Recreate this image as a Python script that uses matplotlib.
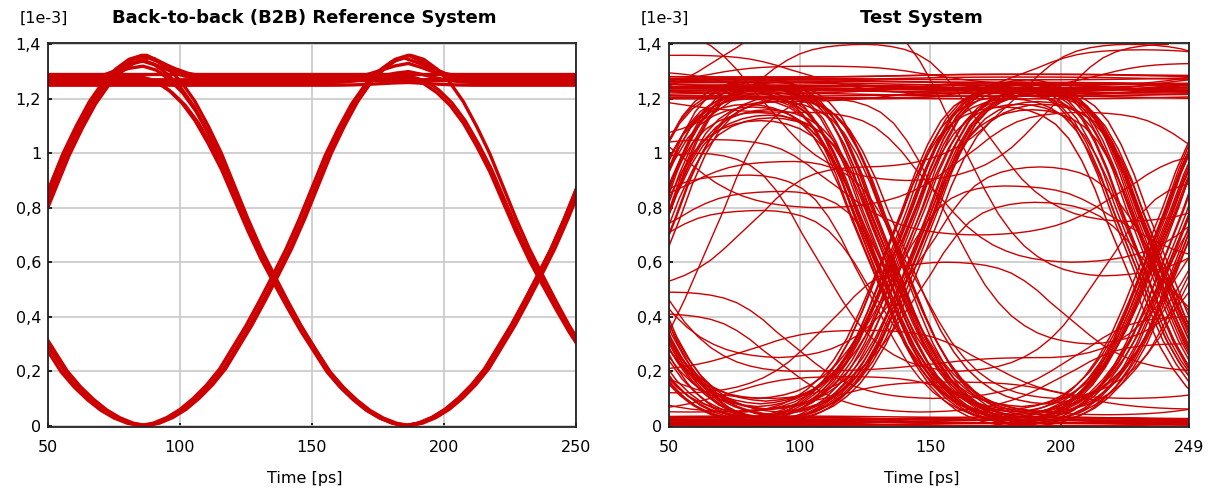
import matplotlib
matplotlib.use("Agg")
import matplotlib.pyplot as plt
import numpy as np
from matplotlib.ticker import FuncFormatter

# sample offsets (ps) across one bit slot, measured from the eye crossing
slot_offsets = np.arange(-50, 55, 5)

# normalised edge shapes (21 samples, -50..+50 ps)
b2b_rise = [0.0, 0.007, 0.022, 0.044, 0.074, 0.110, 0.154, 0.213, 0.272, 0.338, 0.407,
            0.478, 0.559, 0.647, 0.735, 0.809, 0.875, 0.926, 0.963, 0.989, 1.0]
b2b_hump_rise = [0.0] * 15 + [0.04, 0.15, 0.35, 0.6, 0.85, 1.0]
b2b_hump_fall = [1.0, 0.75, 0.45, 0.2, 0.06] + [0.0] * 16
test_rise = [0.0, 0.004, 0.012, 0.025, 0.045, 0.075, 0.115, 0.17, 0.24, 0.33, 0.43,
             0.53, 0.63, 0.74, 0.83, 0.90, 0.945, 0.972, 0.988, 0.997, 1.0]

# bit centres (ps) inside / around the 200 ps window
b2b_centres = [-13.5, 86.5, 186.5, 286.5]
test_centres = [-14, 86, 186, 286]

# B2B traces: level at each bit centre [1e-3] and a small timing offset (ps)
b2b_levels = [
    [0.0, 1.36, 1.27, 1.27], [0.0, 1.36, 1.27, 0.0], [0.0, 1.36, 0.0, 1.36],
    [1.27, 0.0, 1.36, 1.27], [1.30, 0.0, 1.36, 0.0], [1.27, 1.27, 1.27, 1.27],
    [1.28, 1.28, 0.0, 1.36], [1.26, 1.34, 1.27, 1.27], [1.27, 1.27, 1.33, 1.27],
    [1.36, 1.27, 0.0, 1.36], [1.29, 1.29, 1.29, 1.29], [1.25, 1.25, 1.26, 1.25],
    [1.27, 1.32, 0.0, 1.36], [0.0, 1.35, 1.28, 0.0], [1.28, 0.0, 1.35, 1.28],
    [1.26, 1.26, 1.30, 1.26], [0.0, 1.34, 0.0, 1.35],
]
b2b_shift = [0.0, 0.8, -0.8, 0.0, 0.8, 0.0, -0.8, 0.0, 0.0, 0.5, 0.0, 0.0, -0.5, 1.5, -1.5, 0.0, -1.2]

# Test system: main eye traces (levels at the bit centres) and timing jitter (ps)
test_levels = [
    [0.01, 1.17, 0.05, 1.23], [1.24, 0.06, 1.16, 0.02], [0.02, 1.22, 1.26, 0.01],
    [1.27, 1.25, 0.02, 0.01], [0.00, 0.01, 1.23, 1.27], [1.22, 0.02, 0.01, 1.24],
    [0.02, 1.14, 0.01, 0.00], [1.25, 0.08, 1.25, 1.22], [0.01, 1.19, 0.04, 1.21],
    [1.21, 0.03, 1.20, 0.02], [1.28, 1.27, 1.28, 1.27], [1.21, 1.22, 1.21, 1.22],
    [0.01, 0.00, 0.01, 0.02], [0.02, 0.03, 0.02, 0.01], [1.23, 1.25, 1.24, 0.02],
    [0.01, 0.02, 1.25, 0.01], [1.26, 0.02, 0.01, 1.25], [0.01, 1.24, 1.22, 1.28],
    [1.25, 1.27, 0.03, 1.24], [0.03, 0.02, 1.18, 0.00], [1.22, 0.07, 1.26, 1.25],
    [0.00, 1.16, 0.02, 0.02], [1.24, 1.23, 1.24, 1.22], [0.01, 0.01, 0.03, 0.02],
    [1.27, 0.04, 1.19, 0.03], [0.02, 1.20, 0.06, 1.26], [1.29, 1.28, 1.29, 1.28],
    [0.03, 0.02, 0.03, 0.02], [1.21, 1.23, 0.01, 1.21], [0.01, 1.25, 1.23, 0.02],
    [1.23, 0.05, 1.22, 0.01], [0.02, 1.18, 0.03, 1.22], [1.26, 0.02, 1.22, 1.24],
    [0.01, 1.21, 0.02, 0.00], [1.20, 0.03, 1.26, 0.02], [0.03, 1.24, 0.01, 1.23],
    [1.25, 1.26, 1.25, 1.26], [1.23, 1.24, 1.23, 1.24], [0.00, 0.01, 0.00, 0.01],
    [1.22, 0.09, 1.21, 0.03], [0.02, 1.12, 0.07, 1.24], [1.24, 0.03, 0.02, 1.23],
    [0.01, 1.23, 1.25, 1.22], [1.26, 1.24, 0.02, 0.01], [0.03, 0.01, 1.24, 1.26],
    [1.23, 0.04, 1.24, 0.04], [0.01, 1.22, 0.02, 1.20], [1.27, 0.02, 1.23, 1.26],
    [0.02, 1.25, 0.03, 0.02], [1.22, 1.21, 0.01, 1.25], [1.28, 0.01, 1.27, 0.00],
    [0.00, 1.28, 0.00, 1.27], [1.20, 1.20, 1.21, 1.20], [0.02, 0.02, 0.01, 0.03],
    [0.02, 1.23, 0.04, 1.25], [1.26, 0.03, 1.24, 0.02], [0.01, 1.26, 1.24, 0.03],
    [1.24, 1.22, 0.03, 0.02], [0.02, 0.03, 1.21, 1.25], [1.25, 0.01, 0.02, 1.27],
    [0.03, 1.15, 0.02, 0.01], [1.21, 0.06, 1.23, 1.25], [0.00, 1.20, 0.08, 1.22],
    [1.27, 0.05, 1.17, 0.01], [0.02, 1.26, 0.00, 1.24], [1.24, 0.01, 1.25, 0.03],
    [0.01, 1.19, 1.25, 0.02], [1.22, 1.25, 0.04, 1.20], [0.03, 0.02, 1.22, 0.04],
    [1.23, 0.02, 0.03, 1.22], [0.01, 1.24, 0.02, 1.26], [1.26, 0.03, 1.26, 0.01],
    [0.02, 1.21, 0.01, 1.23], [1.25, 0.02, 1.24, 0.02], [0.00, 1.13, 0.05, 1.20],
    [1.23, 0.10, 1.18, 0.02], [0.03, 1.27, 1.26, 0.00], [1.28, 1.26, 0.00, 1.27],
    # flat rails
    [1.200, 1.205, 1.200, 1.210], [1.215, 1.210, 1.220, 1.215], [1.225, 1.230, 1.225, 1.220],
    [1.235, 1.240, 1.235, 1.245], [1.250, 1.245, 1.255, 1.250], [1.260, 1.265, 1.260, 1.255],
    [1.270, 1.275, 1.270, 1.280], [1.285, 1.280, 1.290, 1.285], [1.245, 1.235, 1.240, 1.230],
    [0.000, 0.005, 0.000, 0.005], [0.010, 0.015, 0.010, 0.015], [0.020, 0.025, 0.020, 0.025],
    [0.030, 0.035, 0.030, 0.025], [0.005, 0.000, 0.010, 0.005],
]
test_shift = [-4, 3, 0, -2, 5, -6, 2, -1, 6, -5, 0, 0, 0, 0, 3, -3, 4, -7, 1, 7,
              -2, 2, 0, 0, 5, -5, 0, 0, -4, 4, 6, -6, 5, -3, -3, 3, 0, 0, 0, 1,
              -1, 2, -2, 1, -1, 4, -4, 3, 2, -5, 1, -1, 0, 0,
              -7, 7, -6, 6, -7, 7, -2, 2, 8, -8, 5, -5, 3, -3, 4, -4, 1, -1, 7, -7,
              3, -2, 2, -6,
              0, 0, 0, 0, 0, 0, 0, 0, 0, 0, 0, 0, 0, 0]

# Test system: distorted traces that wander through the eye
stray_levels = [
    [1.05, 1.40, 0.75, 1.20], [0.50, 0.95, 1.40, 1.10], [1.20, 1.50, 0.55, 1.00],
    [1.25, 1.36, 1.22, 1.33], [1.24, 1.32, 1.25, 1.35], [1.00, 1.45, 0.90, 1.40],
    [0.50, 0.79, 0.05, 0.80], [0.60, 0.86, 0.05, 1.00], [0.65, 0.92, 0.02, 0.90],
    [0.75, 0.97, 0.10, 1.05], [0.40, 0.10, 0.82, 0.30], [0.30, 0.05, 0.88, 0.60],
    [0.60, 0.49, 0.10, 0.40], [0.30, 0.12, 0.60, 0.20], [0.55, 0.41, 0.05, 0.30],
    [0.10, 1.20, 0.30, 1.20], [1.22, 1.15, 0.60, 1.00], [0.30, 1.00, 0.20, 0.90],
    [0.90, 0.25, 0.95, 0.20], [0.05, 0.18, 0.04, 0.20], [0.15, 0.05, 0.16, 0.06],
    [1.18, 0.80, 1.15, 0.85], [0.85, 1.05, 0.70, 1.00], [0.20, 0.35, 0.10, 0.30],
    [1.30, 1.20, 1.38, 1.22], [0.95, 0.20, 0.25, 1.00],
]
stray_shift = [39, 40, 30, -30, 20, -45, 0, 8, -5, 12, 4, -8, -35, -30, -40,
               25, 18, -25, 6, 32, -28, 22, -18, 40, 45, 10]

y_ticks = [0, 0.2, 0.4, 0.6, 0.8, 1.0, 1.2, 1.4]
b2b_xticks = [50, 100, 150, 200, 250]
test_xticks = [50, 100, 150, 200, 249]

RED = "#cc0000"


def build_trace(centres, levels, shift, up, small_up=None, small_down=None):
    up = np.asarray(up)
    down = up[::-1]
    xs, ys = [], []
    for i in range(len(levels) - 1):
        a, b = levels[i], levels[i + 1]
        t = centres[i] + 50 + slot_offsets + shift
        if small_up is not None and abs(b - a) < 0.5:
            prof = np.asarray(small_up) if b >= a else np.asarray(small_down)
        else:
            prof = up if b >= a else down
        if b >= a:
            y = a + (b - a) * prof
        else:
            y = b + (a - b) * prof
        xs.append(t)
        ys.append(y)
    return np.concatenate(xs), np.concatenate(ys)


def style_axes(ax, xticks, xlim):
    ax.set_xlim(*xlim)
    ax.set_ylim(-0.005, 1.405)
    ax.set_xticks(xticks)
    ax.set_yticks(y_ticks)
    ax.yaxis.set_major_formatter(FuncFormatter(lambda v, _: ("%g" % round(v, 1)).replace(".", ",")))
    ax.grid(True, color="#c8c8c8", linewidth=1.2)
    ax.set_axisbelow(True)
    ax.tick_params(direction="in", length=3, width=1.2, labelsize=11.5, colors="black")
    ax.tick_params(axis="x", pad=9)
    ax.tick_params(axis="y", pad=5)
    for s in ax.spines.values():
        s.set_color("#222222")
        s.set_linewidth(1.3)


plt.rcParams["font.family"] = ["DejaVu Sans"]

fig = plt.figure(figsize=(12.16, 4.91), dpi=100)
ax1 = fig.add_axes([48 / 1216, 1 - 427 / 491, 528 / 1216, 384 / 491])
ax2 = fig.add_axes([669 / 1216, 1 - 427 / 491, 520 / 1216, 384 / 491])

for lv, sh in zip(b2b_levels, b2b_shift):
    x, y = build_trace(b2b_centres, lv, sh, b2b_rise, b2b_hump_rise, b2b_hump_fall)
    ax1.plot(x, y, color=RED, linewidth=2.4, solid_capstyle="butt")

for lv, sh in zip(test_levels, test_shift):
    x, y = build_trace(test_centres, lv, sh, test_rise)
    ax2.plot(x, y, color=RED, linewidth=1.1)

for lv, sh in zip(stray_levels, stray_shift):
    x, y = build_trace(test_centres, lv, sh, test_rise)
    ax2.plot(x, y, color=RED, linewidth=1.0)

style_axes(ax1, b2b_xticks, (50, 250))
style_axes(ax2, test_xticks, (50, 249))

for ax, title in ((ax1, "Back-to-back (B2B) Reference System"), (ax2, "Test System")):
    pos = ax.get_position()
    xc = (pos.x0 + pos.x1) / 2
    fig.text(xc - 8 / 1216, 1 - 18 / 491, title, ha="center", va="center", fontsize=13, fontweight="bold")
    fig.text(pos.x0 - 4 / 1216, 1 - 18 / 491, "[1e-3]", ha="center", va="center", fontsize=11.5)
    fig.text(xc - 7 / 1216, 1 - 478 / 491, "Time [ps]", ha="center", va="center", fontsize=11.5)

fig.savefig("out.png", dpi=100, facecolor="white")
